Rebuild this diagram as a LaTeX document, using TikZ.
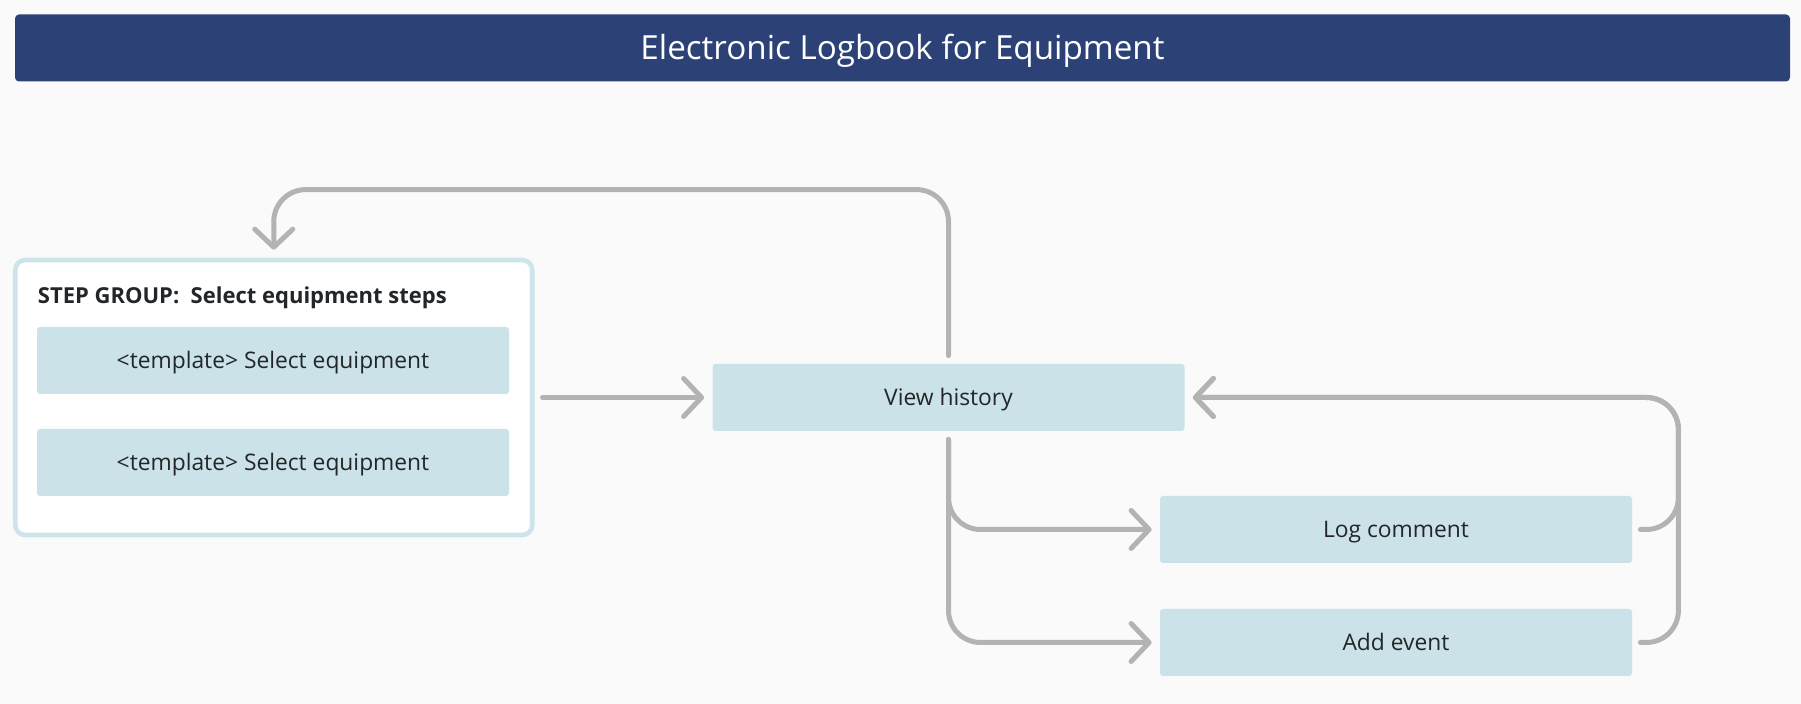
\documentclass[tikz,border=0pt]{standalone}
\usepackage{fontspec}
\setmainfont{Open Sans}
\usepackage{tikz}
\usetikzlibrary{arrows.meta,calc}
\definecolor{barblue}{HTML}{2C4276}
\definecolor{stepfill}{HTML}{CAE2E8}
\definecolor{grpline}{HTML}{CCE4EA}
\definecolor{flowgray}{HTML}{B3B3B3}
\definecolor{ink}{HTML}{232629}
\definecolor{paper}{HTML}{FAFAFA}
\tikzset{stepbox/.style={fill=stepfill,rounded corners=1.5pt,minimum width=236pt,minimum height=33.5pt,text=ink,
    text height=7.6pt,text depth=0pt,font=\fontsize{11.4}{13}\selectfont},
  flow/.style={draw=flowgray,line width=2.5pt,line cap=round,rounded corners=16pt,shorten <=4pt,shorten >=4pt,
    -{Straight Barb[length=9pt,width=19pt,line cap=round,line join=round]}}}

\begin{document}
\begin{tikzpicture}[x=0.5pt,y=-0.5pt,line join=round]
\fill[paper] (0,0) rectangle (1801,704); \useasboundingbox (0,0) rectangle (1801,704);
% --- title bar
\node[fill=barblue,rounded corners=2pt,minimum width=887.5pt,minimum height=33.5pt,text=white,text height=11.2pt,text depth=0pt,font=\fontsize{16.6}{19}\selectfont] (title) at (902.5,48) {Electronic Logbook for Equipment};
% --- step group with the two templates
\node[draw=grpline,fill=white,line width=2.3pt,rounded corners=5pt,minimum width=258.5pt,minimum height=137.5pt] (grp) at (273.75,397.5) {};
\node[anchor=west,inner xsep=0pt,text=ink,text height=7.8pt,text depth=0pt,font=\bfseries\fontsize{11}{13}\selectfont] (grptitle) at (37.5,295.5) {STEP GROUP:\ \ Select equipment steps};
\node[stepbox] (tplA) at (273,360.5) {<template> Select equipment};
\node[stepbox] (tplB) at (273,462.5) {<template> Select equipment};
% --- steps
\node[stepbox] (hist) at (948.5,397.5) {View history};
\node[stepbox] (comment) at (1396,529.5) {Log comment};
\node[stepbox] (event) at (1396,642.5) {Add event};
% --- connectors
\draw[flow] (grp.east) -- (hist.west);
\draw[flow] (hist.north) -- ++(0,-174) -| (grp.north);
\draw[flow] (hist.south) |- (comment.west);
\draw[flow] (hist.south) |- (event.west);
\draw[flow] (comment.east) -- ++(46,0) |- (hist.east);
\draw[flow] (event.east) -- ++(46,0) |- (hist.east);
\end{tikzpicture}
\end{document}
